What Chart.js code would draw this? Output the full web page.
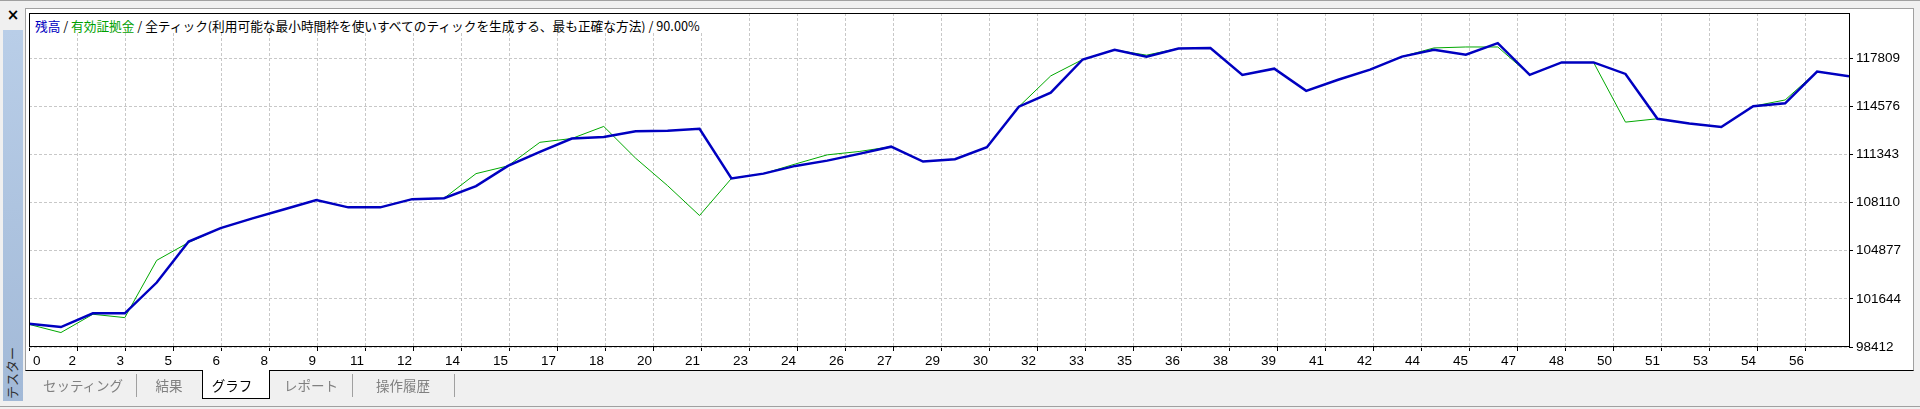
<!DOCTYPE html>
<html lang="ja">
<head>
<meta charset="utf-8">
<title>テスター - グラフ</title>
<script src="https://cdn.jsdelivr.net/npm/chart.js@4.4.1/dist/chart.umd.min.js"></script>
<style>
  html, body { margin: 0; padding: 0; }
  body { width: 1920px; height: 409px; overflow: hidden; background: #f0f0f0; font-family: "Noto Sans CJK JP", sans-serif; }
  #wrap { position: relative; width: 1920px; height: 409px; }
  #topline { position: absolute; left: 0; top: 0; width: 1920px; height: 1px; background: #a0a0a0; }
  #close { position: absolute; left: 4px; top: 6px; width: 18px; text-align: center; font: bold 15px "DejaVu Sans", sans-serif; line-height: 18px; color: #000; }
  #side { position: absolute; left: 3px; top: 30px; width: 20px; height: 371px; background: linear-gradient(#b9cee8, #a2b9d7); }
  #sidetext { position: absolute; left: -18px; top: 364px; width: 60px; height: 18px; line-height: 18px; text-align: center;
              font-size: 13px; color: #303030; transform: rotate(-90deg); }
  #panel { position: absolute; left: 25px; top: 8px; width: 1887px; height: 361px; background: #fff;
           border: 1px solid #a0a0a0; border-bottom: 1px solid #000; }
  #chart { position: absolute; left: 0; top: 0; }
  #title { position: absolute; left: 30px; top: 14px; height: 19px; line-height: 24px; padding: 0 4px 0 5px;
           background: #fff; font-size: 12.7px; color: #000; white-space: nowrap; overflow: hidden; }
  .bal { color: #0000c0; }
  .eq { color: #00a000; }
  .tab { position: absolute; top: 376px; width: 100px; text-align: center; font-size: 13.5px; line-height: 18px; color: #808080; }
  .tab.on { color: #000; }
  #active { position: absolute; left: 202px; top: 370px; width: 66px; height: 28px; background: #fff;
            border: 1px solid #000; border-top: none; }
  .sep { position: absolute; top: 374px; width: 1px; height: 23px; background: #a0a0a0; }
  #bottomline { position: absolute; left: 0; top: 406px; width: 1920px; height: 1px; background: #a0a0a0; }
</style>
</head>
<body>
<div id="wrap">
  <div id="topline"></div>
  <div id="close">×</div>
  <div id="side"></div>
  <div id="sidetext">テスター</div>
  <div id="panel"></div>
  <div id="active"></div>
  <canvas id="chart" width="1920" height="409"></canvas>
  <div id="title"><span class="bal">残高</span> / <span class="eq">有効証拠金</span> / 全ティック(利用可能な最小時間枠を使いすべてのティックを生成する、最も正確な方法) / 90.00%</div>
  <div class="tab" style="left:33px">セッティング</div>
  <div class="sep" style="left:136px"></div>
  <div class="tab" style="left:119px">結果</div>
  <div class="tab on" style="left:182px">グラフ</div>
  <div class="tab" style="left:261px">レポート</div>
  <div class="sep" style="left:352px"></div>
  <div class="tab" style="left:353px">操作履歴</div>
  <div class="sep" style="left:454px"></div>
  <div id="bottomline"></div>
</div>
<script>
// trade number on the x axis
const trades = [0, 1, 2, 3, 4, 5, 6, 7, 8, 9, 10, 11, 12, 13, 14, 15, 16, 17, 18, 19,
    20, 21, 22, 23, 24, 25, 26, 27, 28, 29, 30, 31, 32, 33, 34, 35, 36, 37, 38, 39,
    40, 41, 42, 43, 44, 45, 46, 47, 48, 49, 50, 51, 52, 53, 54, 55, 56, 57];

// 残高 (balance)
const balance = [99973, 99750, 100675, 100675, 102740, 105492, 106397, 107044, 107658, 108272,
    107787, 107787, 108337, 108402, 109210, 110570, 111505, 112410, 112507, 112895,
    112930, 113057, 109727, 110050, 110570, 110923, 111376, 111861, 110858, 111020,
    111828, 114544, 115481, 117712, 118358, 117906, 118455, 118488, 116678, 117098,
    115610, 116355, 117033, 117906, 118358, 118035, 118810, 116678, 117518, 117518,
    116743, 113735, 113412, 113186, 114576, 114770, 116904, 116581];

// 有効証拠金 (equity)
const equity = [99931, 99382, 100610, 100384, 104231, 105430, 106397, 107044, 107658, 108272,
    107787, 107787, 108337, 108402, 110050, 110570, 112152, 112410, 113219, 111085,
    109242, 107238, 109727, 110050, 110697, 111311, 111537, 111861, 110858, 111020,
    111828, 114544, 116613, 117712, 118358, 118003, 118455, 118488, 116678, 117098,
    115610, 116355, 117033, 117906, 118488, 118553, 118553, 116678, 117518, 117518,
    113509, 113735, 113412, 113186, 114576, 114996, 116904, 116581];

const xTickLabels = ['0', '2', '3', '5', '6', '8', '9', '11', '12', '14', '15', '17', '18', '20', '21',
    '23', '24', '26', '27', '29', '30', '32', '33', '35', '36', '38', '39', '41', '42', '44',
    '45', '47', '48', '50', '51', '53', '54', '56'];
const yTicks = [98412, 101644, 104877, 108110, 111343, 114576, 117809];

const xMax = 57;
const xGridStep = 1.5033;   // trades between two vertical grid lines
const yMin = 98412;
const yMax = 120834;

const labelFont = { family: 'Liberation Sans', size: 13.5 };

// black frame round the plot and the first x label, which sits inside the frame
const framePlugin = {
    id: 'frame',
    afterDraw(chart) {
        const { ctx, chartArea: a, scales } = chart;
        ctx.save();
        ctx.strokeStyle = '#000';
        ctx.lineWidth = 1;
        ctx.strokeRect(a.left + 0.5, a.top + 0.5, a.right - a.left, a.bottom - a.top - 1);

        const items = scales.x.getLabelItems();
        const ref = items[1];
        ctx.font = labelFont.size + 'px "' + labelFont.family + '"';
        ctx.fillStyle = '#000';
        ctx.textAlign = 'left';
        ctx.textBaseline = ref.options.textBaseline;
        ctx.fillText(xTickLabels[0], scales.x.getPixelForValue(0) + 4, ref.options.translation[1] + ref.textOffset);
        ctx.restore();
    }
};

const ctx = document.getElementById('chart').getContext('2d');
const chart = new Chart(ctx, {
    type: 'line',
    data: {
        datasets: [{
            label: '残高',
            data: balance.map((v, i) => ({ x: trades[i], y: v })),
            borderColor: '#0000c0',
            borderWidth: 2.5,
            pointRadius: 0,
            tension: 0,
            fill: false
        },
        {
            label: '有効証拠金',
            data: equity.map((v, i) => ({ x: trades[i], y: v })),
            borderColor: '#00a800',
            borderWidth: 1,
            pointRadius: 0,
            tension: 0,
            fill: false
        }]
    },
    options: {
        responsive: false,
        animation: false,
        layout: { padding: { left: 29, top: 13, right: 0, bottom: 0 } },
        scales: {
            x: {
                type: 'linear',
                min: 0,
                max: xMax,
                afterBuildTicks: function(scale) {
                    scale.ticks = xTickLabels.map((l, k) => ({ value: k * xGridStep }));
                },
                afterFit: function(scale) { scale.height = 62; },
                grid: { color: '#c8c8c8', lineWidth: 1, tickLength: 4, tickColor: '#000' },
                border: { display: false, dash: [3, 2] },
                ticks: {
                    align: 'end',
                    padding: 2,
                    labelOffset: -1,
                    maxRotation: 0,
                    autoSkip: false,
                    color: '#000',
                    font: labelFont,
                    callback: function(value, index) {
                        return index === 0 ? '' : xTickLabels[index];
                    }
                }
            },
            y: {
                position: 'right',
                min: yMin,
                max: yMax,
                afterBuildTicks: function(scale) {
                    scale.ticks = yTicks.map(v => ({ value: v }));
                },
                afterFit: function(scale) { scale.width = 71; },
                grid: { color: '#c8c8c8', lineWidth: 1, tickLength: 4, tickColor: '#000' },
                border: { display: false, dash: [3, 2] },
                ticks: {
                    padding: 3,
                    color: '#000',
                    font: labelFont,
                    callback: function(value) { return String(value); }
                }
            }
        },
        plugins: {
            legend: { display: false },
            title: { display: false },
            tooltip: { enabled: false }
        }
    },
    plugins: [framePlugin]
});
</script>
</body>
</html>
